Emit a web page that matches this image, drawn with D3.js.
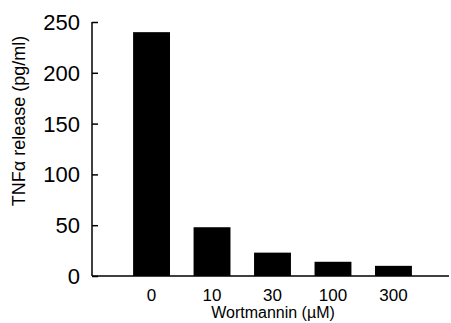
<!DOCTYPE html>
<html>
<head>
<meta charset="utf-8">
<script src="https://cdn.jsdelivr.net/npm/d3@7"></script>
<style>
body { margin: 0; background: #fff; }
text { font-family: "Liberation Sans", Arial, sans-serif; fill: #000; }
</style>
</head>
<body>
<svg id="chart"></svg>
<script>
var doses = ["0", "10", "30", "100", "300"];
var tnfRelease = [240, 48, 23, 14, 10];
var yTicks = [0, 50, 100, 150, 200, 250];

var width = 451, height = 323;

var svg = d3.select("#chart")
    .attr("width", width)
    .attr("height", height);

var xScale = d3.scaleBand()
    .domain(doses)
    .range([121, 424])
    .paddingInner(0.39)
    .paddingOuter(0.2);

var yScale = d3.scaleLinear()
    .domain([0, 250])
    .range([276, 22]);

// bars
svg.selectAll("rect.bar")
    .data(tnfRelease)
    .enter()
    .append("rect")
    .attr("class", "bar")
    .attr("x", function(d, i) { return xScale(doses[i]); })
    .attr("width", xScale.bandwidth())
    .attr("y", function(d) { return yScale(d); })
    .attr("height", function(d) { return yScale(0) - yScale(d); })
    .attr("fill", "#000");

// y axis, ticks point inward
var yAxis = svg.append("g")
    .attr("transform", "translate(92,0)")
    .call(d3.axisRight(yScale).tickValues(yTicks).tickSize(6).tickFormat(""));
yAxis.select(".domain").attr("stroke", "#000").attr("stroke-width", 1.5)
    .attr("d", "M0," + yScale(250) + "V" + yScale(0));
yAxis.selectAll(".tick line").attr("stroke-width", 1.5);

svg.selectAll("text.ylab")
    .data(yTicks)
    .enter()
    .append("text")
    .attr("class", "ylab")
    .attr("x", 80)
    .attr("y", function(d) { return yScale(d); })
    .attr("dy", "0.36em")
    .attr("text-anchor", "end")
    .style("font-size", "22px")
    .text(function(d) { return d; });

// x axis line
svg.append("line")
    .attr("x1", 92).attr("x2", 449)
    .attr("y1", yScale(0)).attr("y2", yScale(0))
    .attr("stroke", "#000").attr("stroke-width", 1.5);

svg.selectAll("text.xlab")
    .data(doses)
    .enter()
    .append("text")
    .attr("class", "xlab")
    .attr("x", function(d) { return xScale(d) + xScale.bandwidth() / 2; })
    .attr("y", 301)
    .attr("text-anchor", "middle")
    .style("font-size", "17px")
    .text(function(d) { return d; });

svg.append("text")
    .attr("x", 273)
    .attr("y", 318)
    .attr("text-anchor", "middle")
    .style("font-size", "16px")
    .text("Wortmannin (\u00b5M)");

svg.append("text")
    .attr("transform", "translate(25,121) rotate(-90)")
    .attr("text-anchor", "middle")
    .style("font-size", "18px")
    .text("TNF\u03b1 release (pg/ml)");
</script>
</body>
</html>
